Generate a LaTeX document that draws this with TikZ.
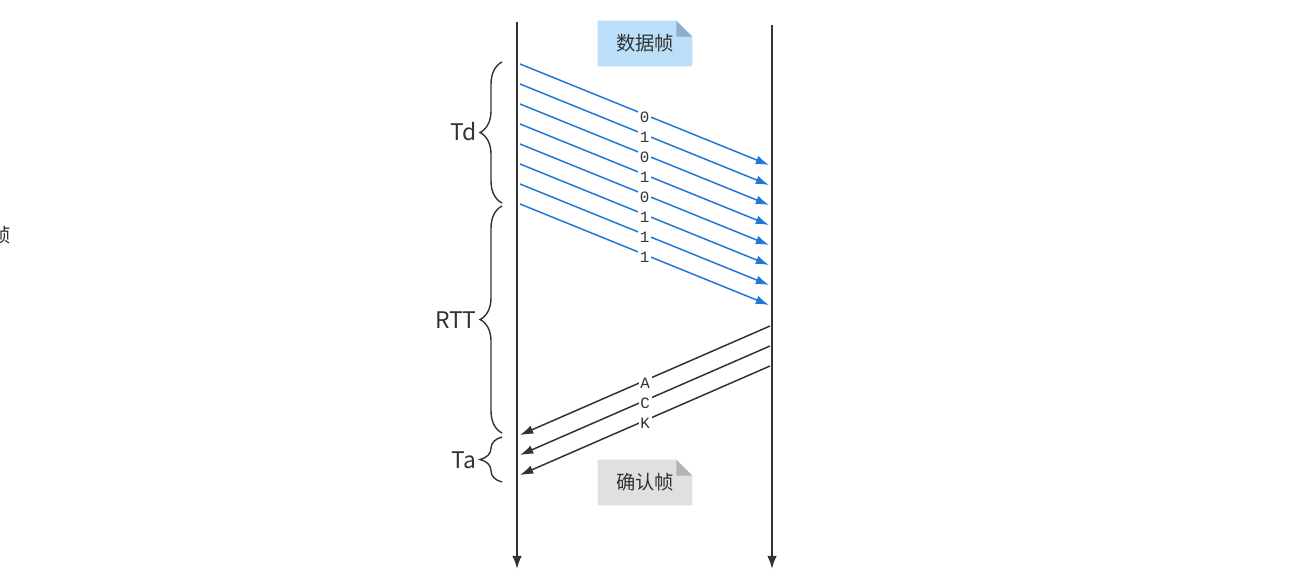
\documentclass[tikz,border=0pt]{standalone}
\usepackage{fontspec}
\setmainfont{Noto Sans CJK SC}
\newfontfamily\bitfont{Liberation Mono}
\usepackage{tikz}
\usetikzlibrary{arrows.meta, positioning, calc, backgrounds, decorations.pathreplacing}
\definecolor{lineblack}{HTML}{333333}
\definecolor{datablue}{HTML}{1E7AD6}
\definecolor{bluenote}{HTML}{BBDEF9}
\definecolor{bluefold}{HTML}{8EAECB}
\definecolor{graynote}{HTML}{E0E0E0}
\definecolor{grayfold}{HTML}{B3B3B3}

\begin{document}
\begin{tikzpicture}[
  x=0.02cm, y=-0.02cm,
  lifeline/.style={-{Latex[length=7.5pt, width=5.5pt]}, draw=lineblack, line width=1.1pt},
  dataarrow/.style={-{Latex[length=7.5pt, width=5pt]}, draw=datablue, line width=0.85pt},
  ackarrow/.style={-{Latex[length=7.5pt, width=5pt]}, draw=lineblack, line width=0.85pt},
  bitlabel/.style={font=\bitfont\fontsize{9}{10}\selectfont, fill=white, inner sep=1pt, yshift=-1.5pt, text=lineblack},
  note/.style={minimum width=1.88cm, minimum height=0.9cm, inner sep=0pt, font=\fontsize{11}{13}\selectfont, text=lineblack},
  timebrace/.style={decorate, decoration={brace, amplitude=12.5pt}, draw=lineblack, line width=0.8pt},
  timelabel/.style={anchor=east, inner sep=0pt, font=\fontsize{13}{15}\selectfont, text=lineblack}
]
  \useasboundingbox (0,0) rectangle (1293,578);

  % Lignes de vie
  \coordinate (sendtop) at (517,22);
  \coordinate (sendbot) at (517,569);
  \coordinate (recvtop) at (772,25);
  \coordinate (recvbot) at (772,569);
  \draw[lifeline] (sendtop) -- (sendbot);
  \draw[lifeline] (recvtop) -- (recvbot);

  % Trames de données
  \foreach \bit [count=\i from 0] in {0,1,0,1,0,1,1,1} {
    \coordinate (ds\i) at (520, 64+20*\i);
    \coordinate (de\i) at (769, 165+20*\i);
    \draw[dataarrow] (ds\i) -- node[bitlabel] {\bit} (de\i);
  }

  % Trames d'acquittement
  \foreach \ch [count=\i from 0] in {A,C,K} {
    \coordinate (as\i) at (770, 326+20*\i);
    \coordinate (ae\i) at (520, 435+20*\i);
    \draw[ackarrow] (as\i) -- node[bitlabel] {\ch} (ae\i);
  }

  % Notes
  \node[note] (datanote) at (645,43.5) {数据帧};
  \node[note] (acknote) at (645,482.5) {确认帧};
  \begin{scope}[on background layer]
    \fill[bluenote] (datanote.north west) -- ($(datanote.north east)+(-16,0)$)
      -- ($(datanote.north east)+(0,16)$) -- (datanote.south east) -- (datanote.south west) -- cycle;
    \fill[bluefold] ($(datanote.north east)+(-16,0)$) -- ($(datanote.north east)+(0,16)$)
      -- ($(datanote.north east)+(-16,16)$) -- cycle;
    \fill[graynote] (acknote.north west) -- ($(acknote.north east)+(-16,0)$)
      -- ($(acknote.north east)+(0,16)$) -- (acknote.south east) -- (acknote.south west) -- cycle;
    \fill[grayfold] ($(acknote.north east)+(-16,0)$) -- ($(acknote.north east)+(0,16)$)
      -- ($(acknote.north east)+(-16,16)$) -- cycle;
  \end{scope}

  % Accolades
  \draw[timebrace] (502,203) -- (502,62);
  \node[timelabel] (td) at (477,132) {Td};
  \draw[timebrace] (502,433) -- (502,206);
  \node[timelabel] (rtt) at (477,320) {RTT};
  \draw[timebrace] (502,482) -- (502,437);
  \node[timelabel] (ta) at (477,460) {Ta};

  \node[font=\fontsize{11}{13}\selectfont, text=lineblack] (cutlabel) at (1.5,235) {帧};
\end{tikzpicture}
\end{document}
